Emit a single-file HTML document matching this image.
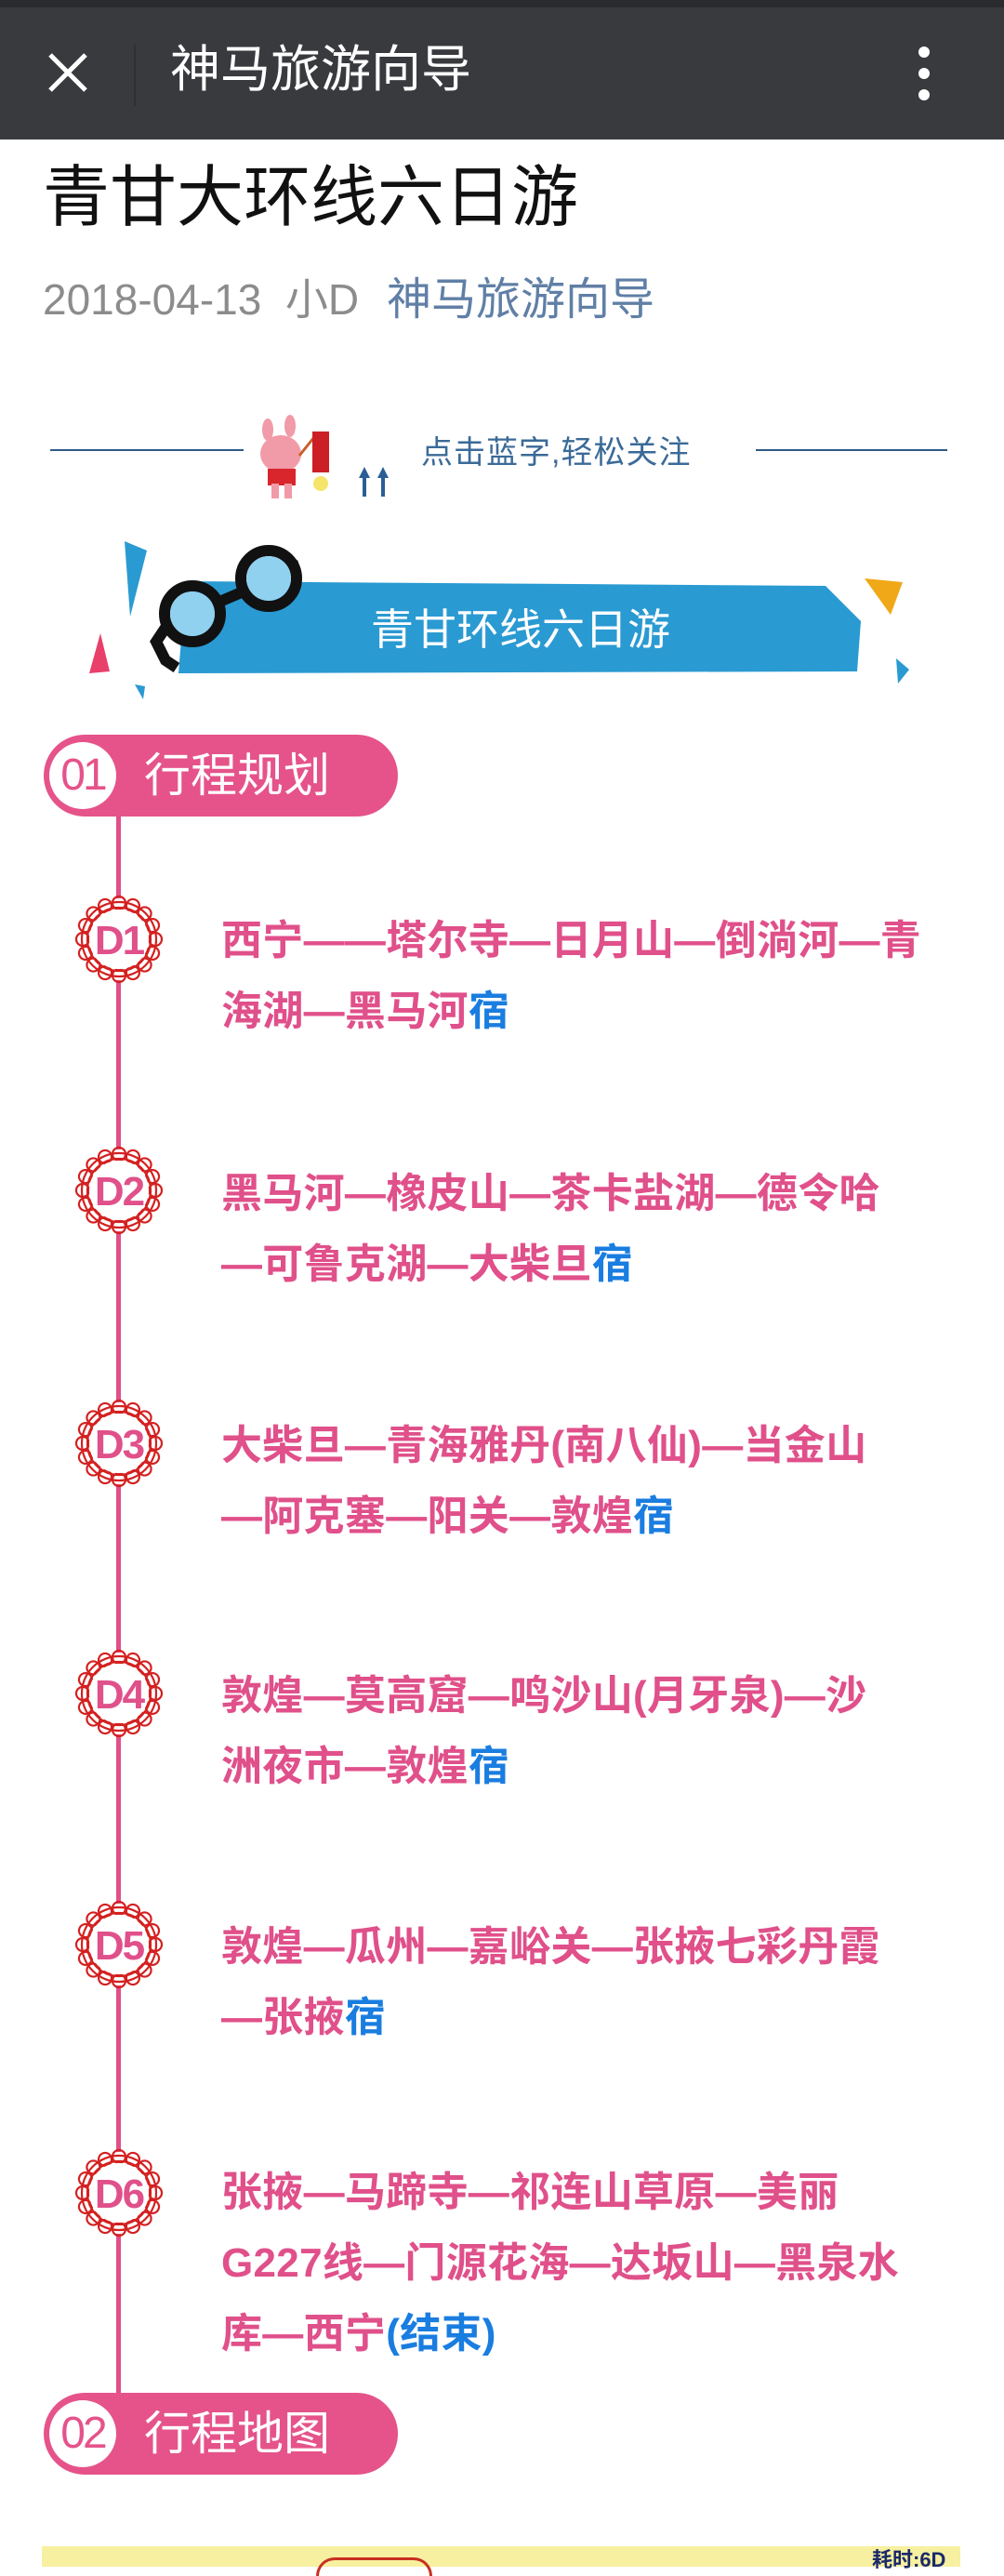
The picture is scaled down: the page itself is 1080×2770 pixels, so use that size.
<!DOCTYPE html>
<html><head><meta charset="utf-8">
<style>
*{margin:0;padding:0;box-sizing:border-box}
body{width:1080px;height:2760px;background:#fff;position:relative;overflow:hidden;font-family:"Liberation Sans","Noto Sans CJK SC",sans-serif}
.abs{position:absolute}
.hdr{left:0;top:0;width:1080px;height:150px;background:#393a3e;border-top:8px solid #2a2b2e}
.t{white-space:nowrap;line-height:1}
.day{left:238px;font-size:44px;color:#e0508a;font-weight:bold;line-height:76px;white-space:nowrap;letter-spacing:0.3px}
.day b{color:#1a7de0;font-weight:bold}
.pill{left:47px;width:381px;height:88px;background:#e5538a;border-radius:44px}
.pill .c{position:absolute;left:6px;top:8px;width:72px;height:72px;border-radius:50%;background:#fff;color:#e5538a;font-size:48px;text-align:center;line-height:72px;font-family:"Liberation Sans",sans-serif;letter-spacing:-3px}
.pill .l{position:absolute;left:108px;top:16px;font-size:50px;color:#fff;line-height:56px;white-space:nowrap}
.badge{width:100px;height:100px}
</style></head><body>
<div class="abs hdr"></div>
<svg class="abs" style="left:50px;top:55px" width="46" height="46"><path d="M4 4L42 42M42 4L4 42" stroke="#fff" stroke-width="5"/></svg>
<div class="abs" style="left:144px;top:48px;width:2px;height:66px;background:#2e2f32"></div>
<div class="abs t" style="left:183px;top:48px;font-size:54px;color:#fff">神马旅游向导</div>
<div class="abs" style="left:988px;top:50px;width:12px;height:12px;border-radius:50%;background:#fff"></div>
<div class="abs" style="left:988px;top:73px;width:12px;height:12px;border-radius:50%;background:#fff"></div>
<div class="abs" style="left:988px;top:96px;width:12px;height:12px;border-radius:50%;background:#fff"></div>

<div class="abs t" style="left:46px;top:177px;font-size:72px;color:#111">青甘大环线六日游</div>
<div class="abs t" style="left:46px;top:299px;font-size:46px;color:#8c8c8c">2018-04-13&nbsp; 小D</div>
<div class="abs t" style="left:416px;top:299px;font-size:48px;color:#607fa6">神马旅游向导</div>

<!-- follow banner -->
<div class="abs" style="left:54px;top:483px;width:208px;height:2px;background:#2f5a86"></div>
<div class="abs" style="left:813px;top:483px;width:206px;height:2px;background:#2f5a86"></div>
<svg class="abs" style="left:270px;top:440px" width="160" height="100">
 <ellipse cx="32" cy="48" rx="22" ry="20" fill="#f19aa8"/>
 <ellipse cx="18" cy="22" rx="6" ry="12" fill="#f19aa8"/>
 <ellipse cx="42" cy="18" rx="6" ry="12" fill="#f19aa8"/>
 <rect x="18" y="64" width="30" height="18" fill="#d8262c"/>
 <rect x="22" y="80" width="8" height="16" fill="#f19aa8"/><rect x="36" y="80" width="8" height="16" fill="#f19aa8"/>
 <path d="M52 50L68 30" stroke="#c8602a" stroke-width="3"/>
 <rect x="66" y="24" width="18" height="44" fill="#cc1f25"/>
 <circle cx="75" cy="80" r="8" fill="#f4e56a"/>
 <path d="M122 62l-6 12h4v20h4v-20h4z" fill="#2a5f95"/>
 <path d="M142 62l-6 12h4v20h4v-20h4z" fill="#2a5f95"/>
</svg>
<div class="abs t" style="left:453px;top:470px;font-size:34px;color:#3a6a98;letter-spacing:1px">点击蓝字,轻松关注</div>

<!-- title banner -->
<svg class="abs" style="left:0;top:560px" width="1080" height="200">
 <polygon points="200,65 888,70 926,108 922,162 192,164" fill="#2a9ad2"/>
 <polygon points="134,22 158,32 140,103" fill="#2a9ad2"/>
 <polygon points="108,121 118,162 96,164" fill="#e8406a"/>
 <polygon points="930,62 971,66 958,101" fill="#f0a818"/>
 <polygon points="964,148 978,160 966,175" fill="#2a9ad2"/>
 <polygon points="145,176 156,178 154,192" fill="#2a9ad2"/>
 <g fill="none" stroke="#111" stroke-width="12">
  <circle cx="207" cy="100" r="30"/><circle cx="289" cy="62" r="30"/>
  <path d="M234 88L262 76M316 50L322 48M180 112L168 130L178 150L190 158"/>
 </g>
 <circle cx="207" cy="100" r="24" fill="#8fd1ef"/><circle cx="289" cy="62" r="24" fill="#8fd1ef"/>
 <text x="560" y="133" font-size="46" fill="#fff" text-anchor="middle" font-family="Noto Sans CJK SC, sans-serif">青甘环线六日游</text>
</svg>

<!-- timeline -->
<div class="abs" style="left:125px;top:870px;width:5px;height:1710px;background:#e0508a"></div>
<div class="abs pill" style="top:790px"><div class="c">01</div><div class="l">行程规划</div></div>
<div class="abs pill" style="top:2573px"><div class="c">02</div><div class="l">行程地图</div></div>

<svg width="0" height="0" style="position:absolute"><defs>
<g id="lace">
 <circle cx="50" cy="50" r="44" fill="#fff"/>
 <g fill="none" stroke="#d42020" stroke-width="2.2">
  <circle cx="50" cy="50" r="34"/>
  <circle cx="50" cy="50" r="40"/>
  <g id="sc">
   <circle cx="50" cy="11" r="7"/>
   <circle cx="50" cy="11" r="7" transform="rotate(22.5 50 50)"/>
   <circle cx="50" cy="11" r="7" transform="rotate(45 50 50)"/>
   <circle cx="50" cy="11" r="7" transform="rotate(67.5 50 50)"/>
  </g>
  <use href="#sc" transform="rotate(90 50 50)"/>
  <use href="#sc" transform="rotate(180 50 50)"/>
  <use href="#sc" transform="rotate(270 50 50)"/>
 </g>
 <circle cx="50" cy="50" r="32" fill="#fff"/>
</g></defs></svg>

<!-- days -->
<svg class="abs badge" style="left:78px;top:960px"><use href="#lace"/><text x="50" y="66" text-anchor="middle" font-size="44" font-weight="bold" fill="#e0508a" font-family="Liberation Sans, sans-serif" letter-spacing="-2">D1</text></svg>
<div class="abs day" style="top:974px">西宁——塔尔寺—日月山—倒淌河—青<br>海湖—黑马河<b>宿</b></div>

<svg class="abs badge" style="left:78px;top:1230px"><use href="#lace"/><text x="50" y="66" text-anchor="middle" font-size="44" font-weight="bold" fill="#e0508a" font-family="Liberation Sans, sans-serif" letter-spacing="-2">D2</text></svg>
<div class="abs day" style="top:1246px">黑马河—橡皮山—茶卡盐湖—德令哈<br>—可鲁克湖—大柴旦<b>宿</b></div>

<svg class="abs badge" style="left:78px;top:1502px"><use href="#lace"/><text x="50" y="66" text-anchor="middle" font-size="44" font-weight="bold" fill="#e0508a" font-family="Liberation Sans, sans-serif" letter-spacing="-2">D3</text></svg>
<div class="abs day" style="top:1517px">大柴旦—青海雅丹(南八仙)—当金山<br>—阿克塞—阳关—敦煌<b>宿</b></div>

<svg class="abs badge" style="left:78px;top:1771px"><use href="#lace"/><text x="50" y="66" text-anchor="middle" font-size="44" font-weight="bold" fill="#e0508a" font-family="Liberation Sans, sans-serif" letter-spacing="-2">D4</text></svg>
<div class="abs day" style="top:1786px">敦煌—莫高窟—鸣沙山(月牙泉)—沙<br>洲夜市—敦煌<b>宿</b></div>

<svg class="abs badge" style="left:78px;top:2041px"><use href="#lace"/><text x="50" y="66" text-anchor="middle" font-size="44" font-weight="bold" fill="#e0508a" font-family="Liberation Sans, sans-serif" letter-spacing="-2">D5</text></svg>
<div class="abs day" style="top:2056px">敦煌—瓜州—嘉峪关—张掖七彩丹霞<br>—张掖<b>宿</b></div>

<svg class="abs badge" style="left:78px;top:2308px"><use href="#lace"/><text x="50" y="66" text-anchor="middle" font-size="44" font-weight="bold" fill="#e0508a" font-family="Liberation Sans, sans-serif" letter-spacing="-2">D6</text></svg>
<div class="abs day" style="top:2320px">张掖—马蹄寺—祁连山草原—美丽<br>G227线—门源花海—达坂山—黑泉水<br>库—西宁<b>(结束)</b></div>

<!-- map strip -->
<div class="abs" style="left:45px;top:2738px;width:988px;height:22px;background:#f7f0a0"></div>
<div class="abs" style="left:340px;top:2750px;width:125px;height:20px;border:3px solid #c83020;border-radius:20px 20px 0 0;border-bottom:none"></div>
<div class="abs t" style="left:938px;top:2742px;font-size:22px;font-weight:bold;color:#1a2a6a">耗时:6D</div>
</body></html>
